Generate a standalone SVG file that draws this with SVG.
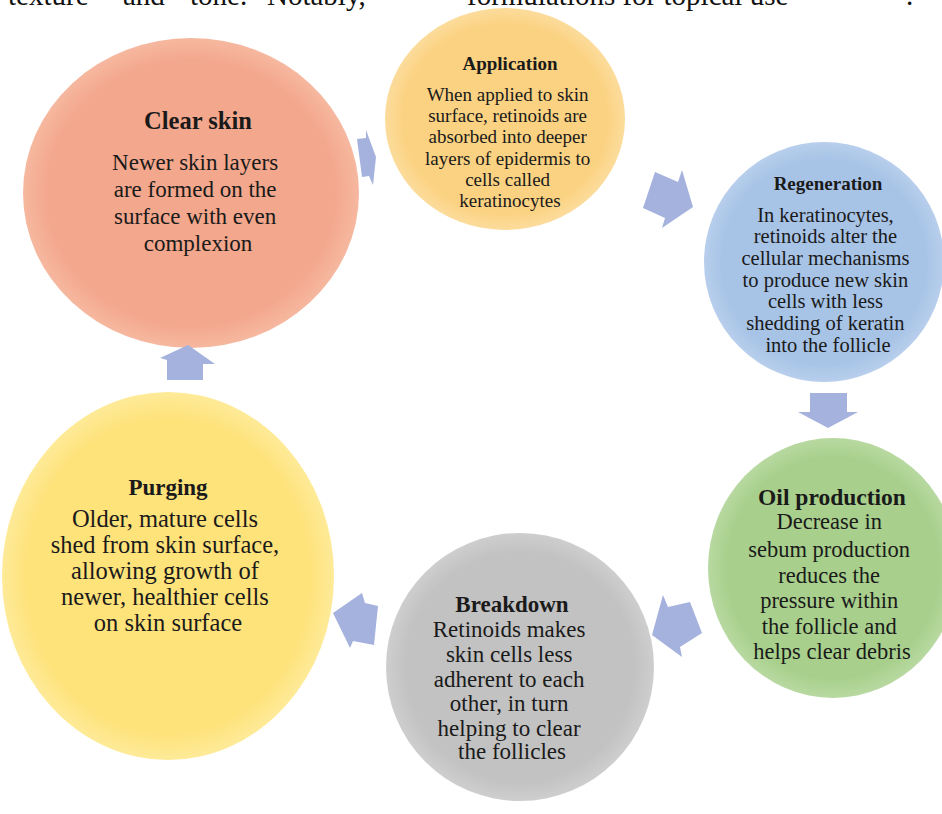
<svg xmlns="http://www.w3.org/2000/svg" width="942" height="814" viewBox="0 0 942 814">
  <style>
    .t { font-family: "Liberation Serif", "Times New Roman", serif; fill: #1a1a1a; text-anchor: middle; }
    .h { font-weight: bold; }
    .top { font-family: "Liberation Serif", "Times New Roman", serif; font-size: 29px; fill: #111; }
    .arrow { fill: #a5b2dd; }
  </style>
  <defs>
    <radialGradient id="gSalmon" cx="50%" cy="50%" r="50%">
      <stop offset="0.85" stop-color="#f3a78c"/>
      <stop offset="1" stop-color="#f6b8a0"/>
    </radialGradient>
    <radialGradient id="gOrange" cx="50%" cy="50%" r="50%">
      <stop offset="0.85" stop-color="#fbd282"/>
      <stop offset="1" stop-color="#fcdc9c"/>
    </radialGradient>
    <radialGradient id="gBlue" cx="50%" cy="50%" r="50%">
      <stop offset="0.85" stop-color="#a7c3e6"/>
      <stop offset="1" stop-color="#b8cfec"/>
    </radialGradient>
    <radialGradient id="gGreen" cx="50%" cy="50%" r="50%">
      <stop offset="0.85" stop-color="#a8d08c"/>
      <stop offset="1" stop-color="#b8d9a1"/>
    </radialGradient>
    <radialGradient id="gGray" cx="50%" cy="50%" r="50%">
      <stop offset="0.85" stop-color="#c2c2c2"/>
      <stop offset="1" stop-color="#cecece"/>
    </radialGradient>
    <radialGradient id="gYellow" cx="50%" cy="50%" r="50%">
      <stop offset="0.85" stop-color="#fee27a"/>
      <stop offset="1" stop-color="#feea98"/>
    </radialGradient>
  </defs>
  <rect width="942" height="814" fill="#ffffff"/>

  <!-- running page text, clipped at the top edge -->
  <g id="page-text">
    <text class="top" x="8" y="5">texture</text>
    <text class="top" x="123" y="5">and</text>
    <text class="top" x="190" y="5">tone.</text>
    <text class="top" x="267" y="5">Notably,</text>
    <text class="top" x="467" y="5">formulations for topical use</text>
    <text class="top" x="906" y="5">.</text>
  </g>

  <g id="clear-skin">
    <ellipse cx="191" cy="193" rx="168" ry="155" fill="url(#gSalmon)"/>
    <text class="t h" x="198" y="129" font-size="24.5">Clear skin</text>
    <text class="t" font-size="23">
      <tspan x="198" y="170">Newer skin layers</tspan>
      <tspan x="198" y="197">are formed on the</tspan>
      <tspan x="198" y="224">surface with even</tspan>
      <tspan x="198" y="251">complexion</tspan>
    </text>
  </g>

  <g id="application">
    <ellipse cx="505" cy="119" rx="120" ry="111" fill="url(#gOrange)"/>
    <text class="t h" x="510" y="70" font-size="19">Application</text>
    <text class="t" font-size="19">
      <tspan x="510" y="101">When applied to skin</tspan>
      <tspan x="510" y="122">surface, retinoids are</tspan>
      <tspan x="510" y="143">absorbed into deeper</tspan>
      <tspan x="510" y="165">layers of epidermis to</tspan>
      <tspan x="510" y="186">cells called</tspan>
      <tspan x="510" y="207">keratinocytes</tspan>
    </text>
  </g>

  <g id="regeneration">
    <circle cx="824" cy="262" r="120" fill="url(#gBlue)"/>
    <text class="t h" x="828" y="190" font-size="19">Regeneration</text>
    <text class="t" font-size="20.5">
      <tspan x="828" y="222">In keratinocytes,</tspan>
      <tspan x="828" y="243">retinoids alter the</tspan>
      <tspan x="828" y="265">cellular mechanisms</tspan>
      <tspan x="828" y="287">to produce new skin</tspan>
      <tspan x="828" y="308">cells with less</tspan>
      <tspan x="828" y="330">shedding of keratin</tspan>
      <tspan x="828" y="352">into the follicle</tspan>
    </text>
  </g>

  <g id="oil-production">
    <ellipse cx="833" cy="568" rx="125" ry="130" fill="url(#gGreen)"/>
    <text class="t h" x="832" y="505" font-size="23.5">Oil production</text>
    <text class="t" font-size="22.5">
      <tspan x="832" y="529">Decrease in</tspan>
      <tspan x="832" y="557">sebum production</tspan>
      <tspan x="832" y="583">reduces the</tspan>
      <tspan x="832" y="608">pressure within</tspan>
      <tspan x="832" y="634">the follicle and</tspan>
      <tspan x="832" y="659">helps clear debris</tspan>
    </text>
  </g>

  <g id="breakdown">
    <circle cx="520" cy="667" r="134" fill="url(#gGray)"/>
    <text class="t h" x="512" y="612" font-size="23">Breakdown</text>
    <text class="t" font-size="23">
      <tspan x="512" y="637">Retinoids makes</tspan>
      <tspan x="512" y="662">skin cells less</tspan>
      <tspan x="512" y="687">adherent to each</tspan>
      <tspan x="512" y="711">other, in turn</tspan>
      <tspan x="512" y="736">helping to clear</tspan>
      <tspan x="512" y="759">the follicles</tspan>
    </text>
  </g>

  <g id="purging">
    <ellipse cx="168" cy="576" rx="166" ry="184" fill="url(#gYellow)"/>
    <text class="t h" x="168" y="495" font-size="23">Purging</text>
    <text class="t" font-size="24.5">
      <tspan x="168" y="527">Older, mature cells</tspan>
      <tspan x="168" y="553">shed from skin surface,</tspan>
      <tspan x="168" y="579">allowing growth of</tspan>
      <tspan x="168" y="605">newer, healthier cells</tspan>
      <tspan x="168" y="631">on skin surface</tspan>
    </text>
  </g>

  <!-- cycle arrows between the stages -->
  <g id="connectors">
    <polygon class="arrow" points="357,139 366,138 366,130 376,157 373,185 369,176 362,177"/>
    <polygon class="arrow" points="655,172 678,182 682,170 693,207 662,228 665,218 643,208"/>
    <polygon class="arrow" points="810,393 847,393 847,412 858,412 828,428 798,412 810,412"/>
    <polygon class="arrow" points="663,595 668,607 690,602 702,633 680,647 682,657 652,635"/>
    <polygon class="arrow" points="362,593 365,603 378,606 374,645 353,641 350,648 333,613"/>
    <polygon class="arrow" points="167,360 160,358 188,345 215,364 203,364 203,380 167,380"/>
  </g>
</svg>
